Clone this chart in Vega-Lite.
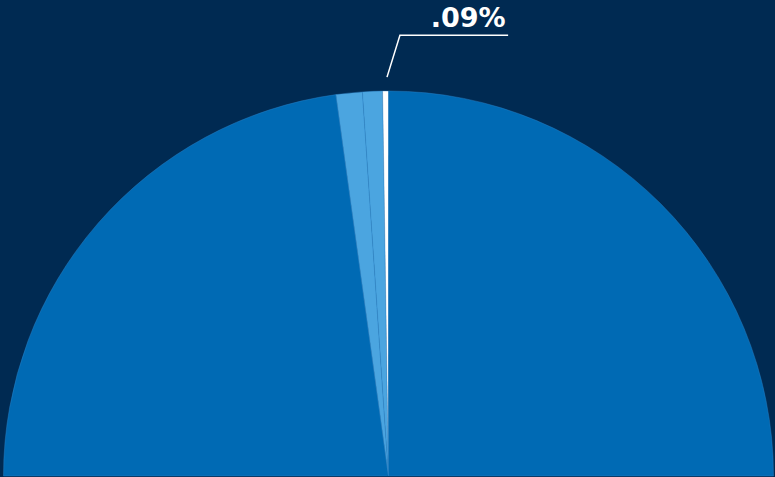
{
  "$schema": "https://vega.github.io/schema/vega-lite/v6.json",
  "autosize": {"type": "fit", "contains": "padding"},
  "width": 775,
  "height": 477,
  "padding": 0,
  "background": "#002a52",
  "config": {"view": {"stroke": null}},
  "layer": [
    {
      "data": {"values": [
        {"category": "A", "value": 45.65, "idx": 1},
        {"category": "B", "value": 2.2, "idx": 2},
        {"category": "C", "value": 1.67, "idx": 3},
        {"category": "D", "value": 0.5, "idx": 4},
        {"category": "E", "value": 50.0, "idx": 5}
      ]},
      "mark": {"type": "arc", "radius": 385, "x": {"expr": "width/2+1"}, "y": {"expr": "height-1"}, "stroke": "#2f87c9", "strokeWidth": 0.4},
      "encoding": {
        "theta": {"field": "value", "type": "quantitative", "stack": true, "scale": {"range": [-1.5707963, 1.5707963]}},
        "order": {"field": "idx", "type": "quantitative"},
        "color": {"field": "category", "type": "nominal", "legend": null,
          "scale": {"domain": ["A", "B", "C", "D", "E"], "range": ["#006ab4", "#4ba5e0", "#4ba5e0", "#ffffff", "#006ab4"]}}
      }
    },
    {
      "data": {"values": [
        {"x": -0.0026, "y": 1.036, "k": 1},
        {"x": 0.031, "y": 1.145, "k": 2},
        {"x": 0.312, "y": 1.145, "k": 3}
      ]},
      "mark": {"type": "line", "stroke": "#ffffff", "strokeWidth": 1.5},
      "encoding": {
        "x": {"field": "x", "type": "quantitative", "axis": null, "scale": {"domain": [-1.0078, 1.0052], "nice": false, "zero": false}},
        "y": {"field": "y", "type": "quantitative", "axis": null, "scale": {"domain": [-0.0026, 1.2364], "nice": false, "zero": false}},
        "order": {"field": "k", "type": "quantitative"}
      }
    },
    {
      "data": {"values": [{"label": ".09%", "x": 0.208, "y": 1.166}]},
      "mark": {"type": "text", "font": "DejaVu Sans", "fontWeight": "bold", "fontSize": 27, "fill": "#ffffff", "align": "center", "baseline": "alphabetic"},
      "encoding": {
        "x": {"field": "x", "type": "quantitative", "axis": null, "scale": {"domain": [-1.0078, 1.0052], "nice": false, "zero": false}},
        "y": {"field": "y", "type": "quantitative", "axis": null, "scale": {"domain": [-0.0026, 1.2364], "nice": false, "zero": false}},
        "text": {"field": "label", "type": "nominal"}
      }
    }
  ]
}
